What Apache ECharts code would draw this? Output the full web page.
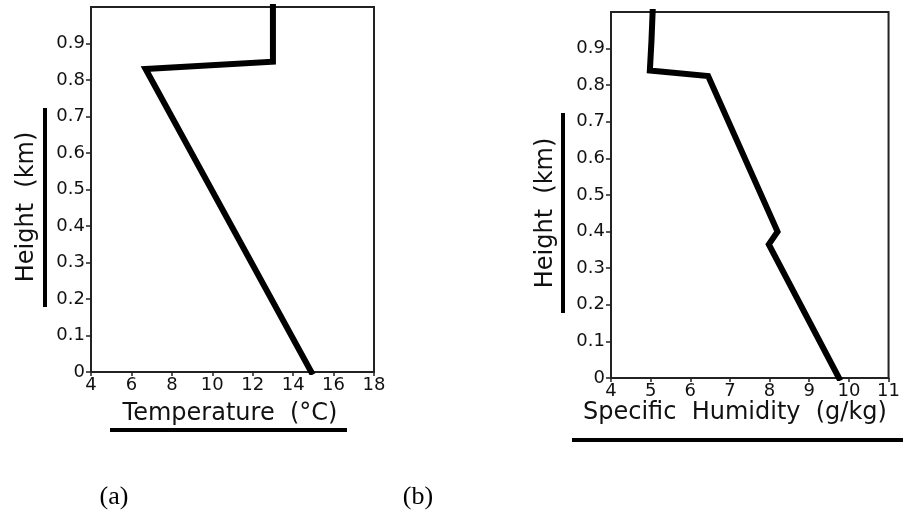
<!DOCTYPE html>
<html>
<head>
<meta charset="utf-8">
<script src="https://cdn.jsdelivr.net/npm/echarts@6/dist/echarts.min.js"></script>
<style>
  html, body { margin: 0; padding: 0; background: #ffffff; }
  #chart { width: 903px; height: 529px; }
</style>
</head>
<body>
<div id="chart"></div>
<script>
// Panel (a): temperature profile
const tempHeights = [0, 0.83, 0.85, 1.0];
const tempValues = [14.9, 6.7, 13.0, 13.0];

// Panel (b): specific humidity profile
const humHeights = [0, 0.365, 0.40, 0.825, 0.84, 0.92, 1.0];
const humValues = [9.75, 7.98, 8.2, 6.45, 4.98, 5.02, 5.05];

const tempTicks = [4, 6, 8, 10, 12, 14, 16, 18];
const humTicks = [4, 5, 6, 7, 8, 9, 10, 11];
const heightTicks = [0, 0.1, 0.2, 0.3, 0.4, 0.5, 0.6, 0.7, 0.8, 0.9];

const tickFont = 'DejaVu Sans';
const frame = '#222';

function pairs(xs, ys) { return xs.map((x, i) => [x, ys[i]]); }

function xAxisCfg(gridIndex, ticks, interval) {
  return {
    type: 'value', gridIndex: gridIndex,
    min: ticks[0], max: ticks[ticks.length - 1], interval: interval,
    axisLine: { show: true, lineStyle: { color: frame, width: 2 } },
    axisTick: { show: true, inside: false, length: 4, lineStyle: { color: frame, width: 1.5 } },
    axisLabel: { color: '#111', fontFamily: tickFont, fontSize: 18, margin: 4 },
    splitLine: { show: false }
  };
}

function yAxisCfg(gridIndex) {
  return {
    type: 'value', gridIndex: gridIndex, min: 0, max: 1, interval: 0.1,
    axisLine: { show: true, lineStyle: { color: frame, width: 2 } },
    axisTick: { show: true, inside: false, length: 5, customValues: heightTicks,
      lineStyle: { color: frame, width: 1.5 } },
    axisLabel: {
      color: '#111', fontFamily: tickFont, fontSize: 18, margin: 6,
      customValues: heightTicks,
      formatter: function (v) { return String(Math.round(v * 10) / 10); }
    },
    splitLine: { show: false }
  };
}

const chart = echarts.init(document.getElementById('chart'), null, { renderer: 'canvas' });

const titleStyle = { fontFamily: tickFont, fontSize: 24, fill: '#111' };

chart.setOption({
  backgroundColor: '#ffffff',
  animation: false,
  grid: [
    { left: 91, top: 7, width: 283, height: 365, show: true, borderColor: frame, borderWidth: 2, backgroundColor: '#fff' },
    { left: 611, top: 12, width: 282, height: 366, show: true, borderColor: frame, borderWidth: 2, backgroundColor: '#fff' }
  ],
  xAxis: [xAxisCfg(0, tempTicks, 2), xAxisCfg(1, humTicks, 1)],
  yAxis: [yAxisCfg(0), yAxisCfg(1)],
  series: [
    {
      type: 'line', xAxisIndex: 0, yAxisIndex: 0,
      data: pairs(tempValues, tempHeights),
      showSymbol: false, symbol: 'none',
      lineStyle: { color: '#000', width: 6, join: 'miter', cap: 'square' }
    },
    {
      type: 'line', xAxisIndex: 1, yAxisIndex: 1,
      data: pairs(humValues, humHeights),
      showSymbol: false, symbol: 'none',
      lineStyle: { color: '#000', width: 6, join: 'miter', cap: 'square' }
    }
  ],
  graphic: [
    // axis titles with their underline bars
    { type: 'text', x: 27, y: 207, rotation: Math.PI / 2,
      style: Object.assign({ text: 'Height  (km)', align: 'center', verticalAlign: 'middle' }, titleStyle) },
    { type: 'rect', shape: { x: 43, y: 108, width: 4, height: 199 }, style: { fill: '#000' } },
    { type: 'text', x: 230, y: 414,
      style: Object.assign({ text: 'Temperature  (\u00B0C)', align: 'center', verticalAlign: 'middle' }, titleStyle) },
    { type: 'rect', shape: { x: 110, y: 428, width: 237, height: 4 }, style: { fill: '#000' } },

    { type: 'text', x: 546, y: 213, rotation: Math.PI / 2,
      style: Object.assign({ text: 'Height  (km)', align: 'center', verticalAlign: 'middle' }, titleStyle) },
    { type: 'rect', shape: { x: 561, y: 113, width: 4, height: 200 }, style: { fill: '#000' } },
    { type: 'text', x: 583, y: 413,
      style: Object.assign({ text: 'Specific  Humidity  (g/kg)', align: 'left', verticalAlign: 'middle' }, titleStyle) },
    { type: 'rect', shape: { x: 572, y: 438, width: 331, height: 4 }, style: { fill: '#000' } },

    // panel labels
    { type: 'text', x: 114, y: 497,
      style: { text: '(a)', align: 'center', verticalAlign: 'middle', fontFamily: 'Liberation Serif', fontSize: 26, fill: '#000' } },
    { type: 'text', x: 418, y: 497,
      style: { text: '(b)', align: 'center', verticalAlign: 'middle', fontFamily: 'Liberation Serif', fontSize: 26, fill: '#000' } }
  ]
});
</script>
</body>
</html>
